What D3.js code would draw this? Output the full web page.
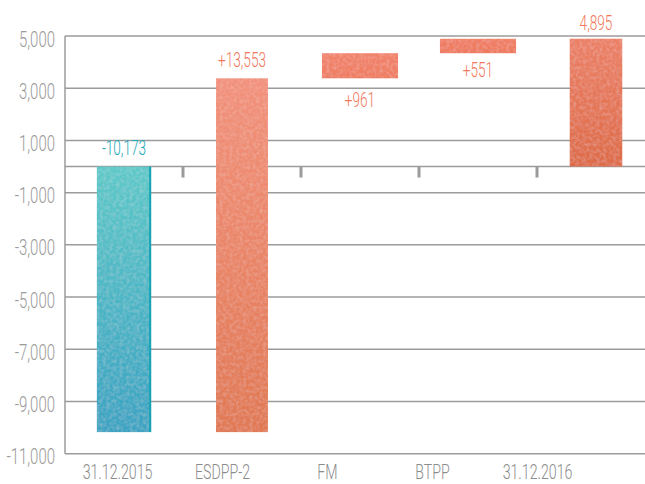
<!DOCTYPE html>
<html>
<head>
<meta charset="utf-8">
<script src="https://cdn.jsdelivr.net/npm/d3@7"></script>
<style>
  html, body { margin: 0; padding: 0; background: #ffffff; }
  svg { display: block; }
  text { font-family: Roboto, "Liberation Sans Narrow", "DejaVu Sans Condensed", sans-serif; font-weight: 300; }
</style>
</head>
<body>
<svg id="chart" width="645" height="484"></svg>
<script>
// Waterfall: net position at year start, three changes, net position at year end
const categories = ["31.12.2015", "ESDPP-2", "FM", "BTPP", "31.12.2016"];
const values = [-10173, 13553, 961, 551, 4895];
const kinds = ["total", "delta", "delta", "delta", "total"];
const yTicks = [5000, 3000, 1000, -1000, -3000, -5000, -7000, -9000, -11000];

const W = 645, H = 484;
const svg = d3.select("#chart");
const locale = d3.formatLocale({ decimal: ".", thousands: ",", grouping: [3], currency: ["", ""], minus: "-" });
const fmt = locale.format(",");

// running totals for the floating bars
let running = 0;
const bars = categories.map((c, i) => {
  const v = values[i];
  let y0, y1;
  if (kinds[i] === "total") { y0 = 0; y1 = v; running = v; }
  else { y0 = running; y1 = running + v; running = y1; }
  return { cat: c, value: v, kind: kinds[i], y0, y1, i };
});

const y = d3.scaleLinear().domain([-11000, 5000]).range([453.7, 36]);
const xBar = d3.scaleBand().domain(categories).range([65, 655]);
const xLab = d3.scaleBand().domain(categories).range([65, 590]);

const widthFactor = [0.46, 0.44, 0.645, 0.645, 0.445];
const sx = 0.68; // horizontal squeeze for a condensed look

// defs: gradients and a light grain
const defs = svg.append("defs");
const grads = [
  ["g0", "#5ec8c8", "#3aa3c2"],
  ["g1", "#f2917b", "#e07852"],
  ["g2", "#f1836b", "#ee7c61"],
  ["g3", "#f07f66", "#ed785c"],
  ["g4", "#eb8066", "#dd6b47"]
];
grads.forEach(([id, c0, c1]) => {
  const g = defs.append("linearGradient").attr("id", id).attr("x1", 0).attr("y1", 0).attr("x2", 0).attr("y2", 1);
  g.append("stop").attr("offset", "0%").attr("stop-color", c0);
  g.append("stop").attr("offset", "100%").attr("stop-color", c1);
});
const f = defs.append("filter").attr("id", "grain").attr("x", 0).attr("y", 0).attr("width", 1).attr("height", 1);
f.append("feTurbulence").attr("type", "fractalNoise").attr("baseFrequency", 0.3).attr("numOctaves", 2).attr("seed", 4).attr("result", "n");
f.append("feColorMatrix").attr("in", "n").attr("type", "matrix")
  .attr("values", "0 0 0 0 1  0 0 0 0 1  0 0 0 0 1  0 0 0 0.3 -0.11").attr("result", "w");
f.append("feComposite").attr("in", "w").attr("in2", "SourceGraphic").attr("operator", "in").attr("result", "wc");
const fm = f.append("feMerge");
fm.append("feMergeNode").attr("in", "SourceGraphic");
fm.append("feMergeNode").attr("in", "wc");

// gridlines
svg.append("g").selectAll("line").data(yTicks.concat([0])).join("line")
  .attr("x1", 65).attr("x2", W)
  .attr("y1", d => y(d)).attr("y2", d => y(d))
  .attr("stroke", "#9b9b9b").attr("stroke-width", 1.5);

// left axis line
svg.append("line").attr("x1", 65).attr("x2", 65).attr("y1", y(5000)).attr("y2", y(-11000))
  .attr("stroke", "#9b9b9b").attr("stroke-width", 1.5);

// separators under the zero line
svg.append("g").selectAll("line").data(categories.slice(1)).join("line")
  .attr("x1", d => xBar(d)).attr("x2", d => xBar(d))
  .attr("y1", y(0)).attr("y2", y(0) + 11)
  .attr("stroke", "#9b9b9b").attr("stroke-width", 3);

// y tick labels
svg.append("g").selectAll("text").data(yTicks).join("text")
  .attr("transform", d => `translate(55,${y(d) + 10.5}) scale(${sx},1)`)
  .attr("text-anchor", "end").attr("font-size", 22).attr("fill", "#9a9a9a")
  .text(d => fmt(d));

// bars
const bw = d => xBar.bandwidth() * widthFactor[d.i];
const bx = d => xBar(d.cat) + xBar.bandwidth() / 2 - bw(d) / 2;
svg.append("g").selectAll("rect").data(bars).join("rect")
  .attr("x", bx)
  .attr("y", d => y(Math.max(d.y0, d.y1)))
  .attr("width", bw)
  .attr("height", d => Math.abs(y(d.y0) - y(d.y1)))
  .attr("fill", d => `url(#g${d.i})`)
  .attr("filter", "url(#grain)");

// darker right edge on the opening bar
const b0 = bars[0];
svg.append("line")
  .attr("x1", bx(b0) + bw(b0) - 1).attr("x2", bx(b0) + bw(b0) - 1)
  .attr("y1", y(Math.max(b0.y0, b0.y1))).attr("y2", y(Math.min(b0.y0, b0.y1)))
  .attr("stroke", "#17a3b3").attr("stroke-width", 2);

// value labels
const labelDy = [-11.5, -11, 29, 23.6, -8.3];
svg.append("g").selectAll("text").data(bars).join("text")
  .attr("transform", d => {
    const cx = xBar(d.cat) + xBar.bandwidth() / 2;
    const above = labelDy[d.i] < 0;
    const yy = above ? y(Math.max(d.y0, d.y1)) + labelDy[d.i] : y(Math.min(d.y0, d.y1)) + labelDy[d.i];
    return `translate(${cx},${yy}) scale(${sx},1)`;
  })
  .attr("text-anchor", "middle").attr("font-size", 20)
  .attr("fill", d => d.value < 0 ? "#22a8b8" : "#f0765a")
  .text(d => (d.kind === "delta" && d.value > 0 ? "+" : "") + fmt(d.value));

// category labels
svg.append("g").selectAll("text").data(categories).join("text")
  .attr("transform", d => `translate(${xLab(d) + xLab.bandwidth() / 2},478.5) scale(${sx + 0.03},1)`)
  .attr("text-anchor", "middle").attr("font-size", 20).attr("fill", "#8c8c8c")
  .text(d => d);
</script>
</body>
</html>
